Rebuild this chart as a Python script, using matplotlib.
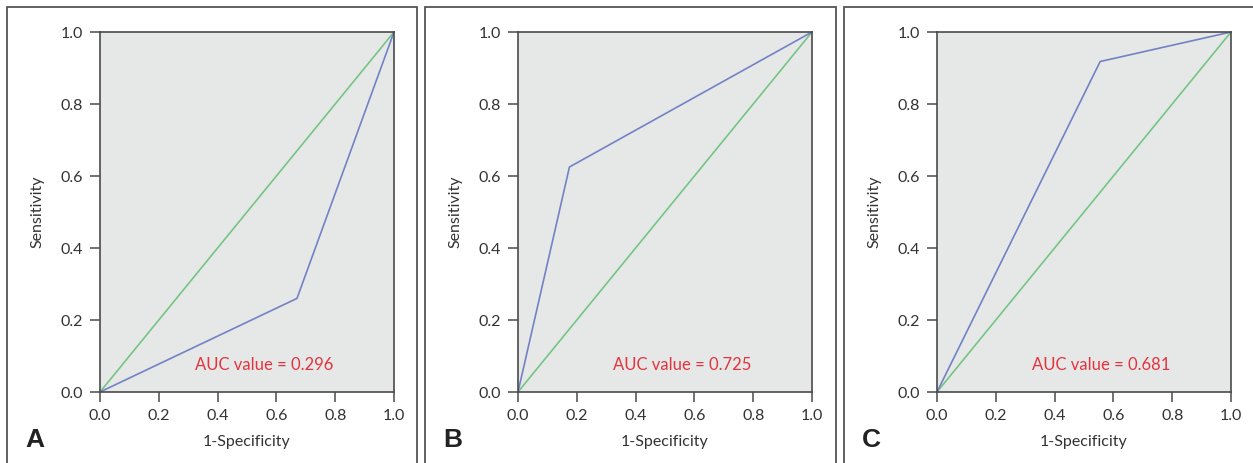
import matplotlib
matplotlib.use("Agg")
import matplotlib.pyplot as plt
from matplotlib.patches import Rectangle

# Data
panel_letters = ["A", "B", "C"]
roc_fpr = [[0.0, 0.67, 1.0], [0.0, 0.175, 1.0], [0.0, 0.555, 1.0]]
roc_tpr = [[0.0, 0.26, 1.0], [0.0, 0.625, 1.0], [0.0, 0.918, 1.0]]
auc_values = ["0.296", "0.725", "0.681"]
ticks = [0.0, 0.2, 0.4, 0.6, 0.8, 1.0]
tick_labels = ["0.0", "0.2", "0.4", "0.6", "0.8", "1.0"]

W, H = 1253, 463
fig = plt.figure(figsize=(W / 100, H / 100), dpi=100)
plt.rcParams['font.family'] = ['Lato', 'DejaVu Sans']

blue = "#7282c4"
green = "#74c584"
red = "#e2343f"
bg = "#e6e8e7"
spine_c = "#4a4a4a"
txt_c = "#333333"

box_lefts = [7, 425, 844]
box_rights = [417, 836, 1262]
ax_lefts = [100, 518, 937]
ax_w = 294
ax_top, ax_bot = 32, 392

for i in range(3):
    # panel frame
    fig.patches.append(Rectangle((box_lefts[i] / W, -0.05), (box_rights[i] - box_lefts[i]) / W,
                                 (H - 7) / H + 0.05, transform=fig.transFigure,
                                 fill=False, edgecolor="#555555", linewidth=1.3))
    ax = fig.add_axes([ax_lefts[i] / W, (H - ax_bot) / H, ax_w / W, (ax_bot - ax_top) / H])
    ax.set_facecolor(bg)
    ax.plot([0, 1], [0, 1], color=green, linewidth=1.2)
    ax.plot(roc_fpr[i], roc_tpr[i], color=blue, linewidth=1.2)
    ax.set_xlim(0, 1)
    ax.set_ylim(0, 1)
    ax.set_xticks(ticks)
    ax.set_xticklabels(tick_labels)
    ax.set_yticks(ticks)
    ax.set_yticklabels(tick_labels)
    ax.tick_params(direction="out", length=7, width=1.1, color=spine_c,
                   labelsize=11.5, labelcolor=txt_c, pad=5)
    for s in ax.spines.values():
        s.set_color(spine_c)
        s.set_linewidth(1.2)
    ax.set_xlabel("1-Specificity", fontsize=11.5, color=txt_c, labelpad=9)
    ax.set_ylabel("Sensitivity", fontsize=11.5, color=txt_c, labelpad=12)
    ax.text(0.56, 0.075, "AUC value = " + auc_values[i], color=red, fontsize=12,
            ha="center", va="center", transform=ax.transData)
    fig.text((box_lefts[i] + 18) / W, (H - 440) / H, panel_letters[i],
             fontsize=19, fontweight="bold", family="Liberation Sans",
             color="#222222", ha="left", va="center")

fig.savefig("out.png", dpi=100)
